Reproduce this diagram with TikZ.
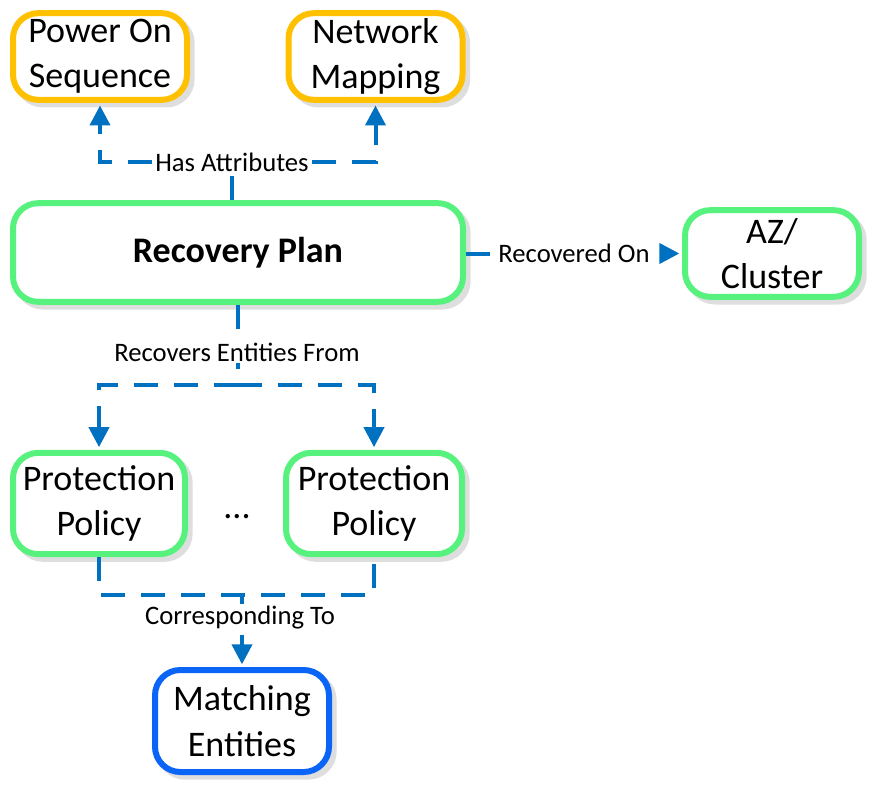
\documentclass[tikz,border=0pt]{standalone}
\usepackage{fontspec}
\setmainfont{Carlito}
\usetikzlibrary{arrows.meta,positioning,calc,shadows}
\definecolor{attrorange}{HTML}{FFC000}
\definecolor{plangreen}{HTML}{57F27E}
\definecolor{entityblue}{HTML}{0A64F5}
\definecolor{linkblue}{HTML}{0070C0}
\tikzset{
  box/.style={draw=plangreen, line width=4.5pt, rounded corners=19pt, align=center, fill=white, inner sep=0pt,
    font=\fontsize{27}{34}\selectfont, minimum width=130.5pt, minimum height=65pt,
    drop shadow={shadow xshift=3.5pt, shadow yshift=-3.5pt, fill=black!13, draw=black!13, opacity=1}},
  greenbox/.style={box},
  orangebox/.style={box, draw=attrorange},
  bluebox/.style={box, draw=entityblue},
  link/.style={draw=linkblue, line width=3pt, dash pattern=on 18pt off 12pt},
  arrow/.style={link, -{Triangle[length=15pt,width=15pt]}, shorten >=2pt},
  lbl/.style={fill=white, inner sep=1.5pt, font=\fontsize{20}{24}\selectfont}
}
\begin{document}
\begin{tikzpicture}[x=0.75pt, y=-0.75pt]
  \useasboundingbox (0,0) rectangle (871,788);
  \node[orangebox] (power) at (100,56.5) {Power On\\Sequence};
  \node[orangebox] (network) at (375.5,56.5) {Network\\Mapping};
  \node[greenbox, minimum width=337.5pt, minimum height=74pt, font=\fontsize{27}{34}\selectfont\bfseries] (plan) at (238,252.5) {Recovery Plan};
  \node[greenbox] (az) at (772,253.5) {AZ/\\Cluster};
  \node[greenbox, minimum width=129pt, minimum height=76pt] (policyA) at (99,503.5) {Protection\\Policy};
  \node[greenbox, minimum width=132pt, minimum height=76pt] (policyB) at (374,503.5) {Protection\\Policy};
  \node[font=\fontsize{27}{34}\selectfont] (more) at (237,517) {...};
  \node[bluebox, minimum height=76.5pt] (match) at (242,721) {Matching\\Entities};
  \coordinate (attrjoin) at (232,162);
  \coordinate (planfork) at (237,385);
  \coordinate (policyjoin) at (242,595);
  \draw[arrow] (attrjoin) -| (power.south);
  \draw[arrow] (attrjoin) -| (network.south);
  \draw[link] (plan.north -| attrjoin) -- (attrjoin) node[lbl] (hasattr) {Has Attributes};
  \draw[arrow] (az.west -| plan.east) -- (az.west) node[lbl, midway] (recoveredon) {Recovered On};
  \draw[arrow] (plan.south) -- (plan.south |- planfork) -| (policyA.north);
  \draw[arrow] (plan.south |- planfork) -| (policyB.north);
  \node[lbl] (recoversfrom) at (237,352) {Recovers Entities From};
  \draw[link] (policyA.south) |- (policyjoin) -| (policyB.south);
  \draw[arrow] (policyjoin) -- (match.north);
  \node[lbl] (correspondingto) at (240,618) {Corresponding To};
\end{tikzpicture}
\end{document}
